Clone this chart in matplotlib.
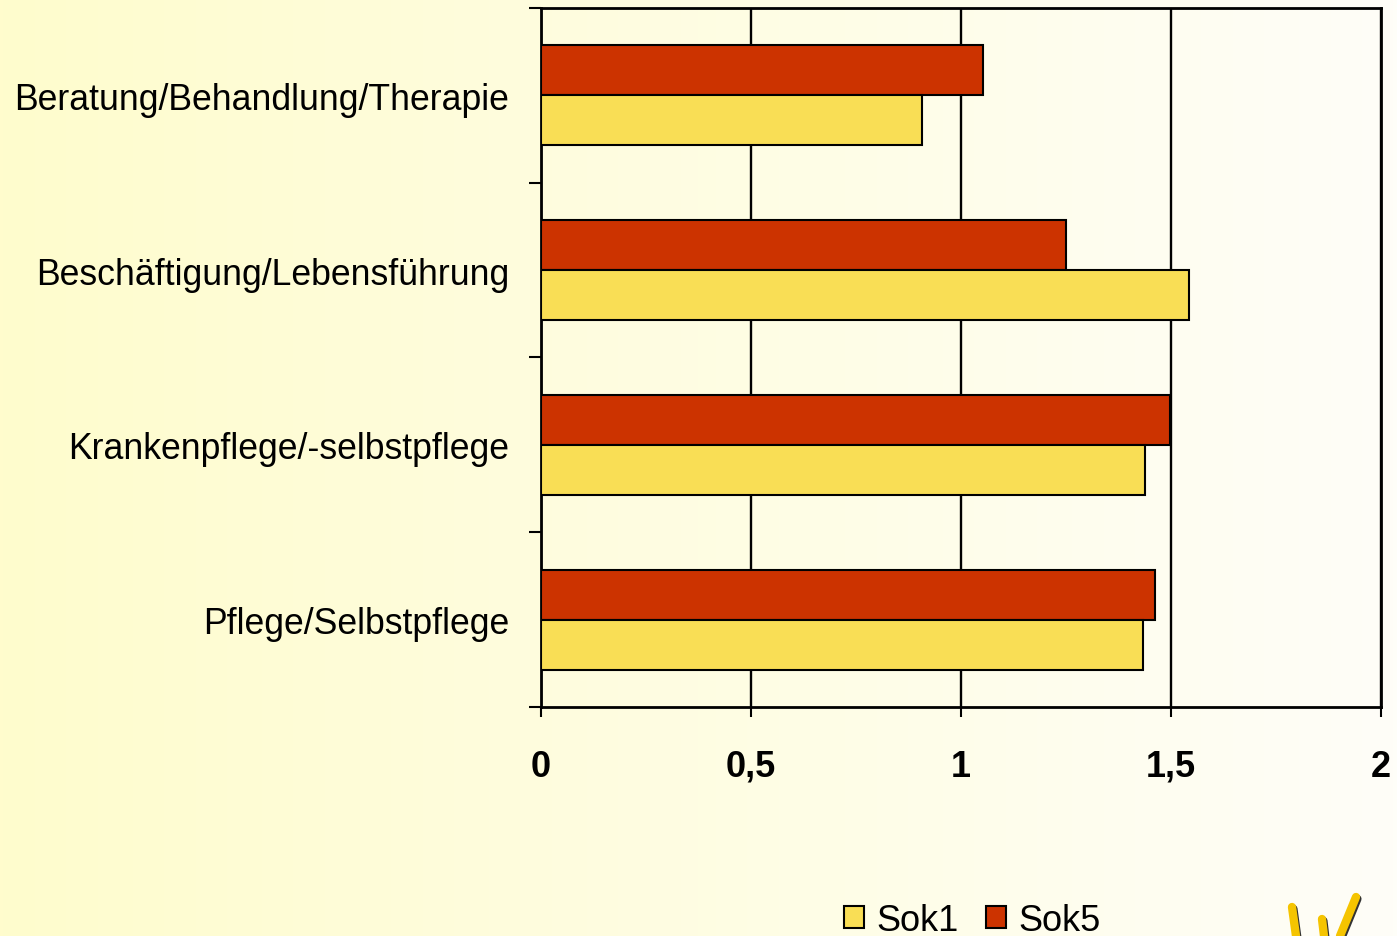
import numpy as np
import matplotlib
matplotlib.use("Agg")
import matplotlib.pyplot as plt
from matplotlib.patches import Patch

plt.rcParams['font.family'] = ['Liberation Sans', 'DejaVu Sans']

# Daten
kategorien = ['Beratung/Behandlung/Therapie', 'Beschäftigung/Lebensführung',
              'Krankenpflege/-selbstpflege', 'Pflege/Selbstpflege']
sok1 = [0.907, 1.543, 1.438, 1.433]
sok5 = [1.052, 1.251, 1.498, 1.462]
xticks = [0, 0.5, 1, 1.5, 2]
xlabels = ['0', '0,5', '1', '1,5', '2']

gelb = '#F9DE55'
rot = '#CC3300'

fig = plt.figure(figsize=(13.97, 9.37), dpi=100)

# Hintergrund mit Verlauf (gelb -> weiss)
bg = fig.add_axes([0, 0, 1, 1], zorder=-10)
links = np.array([255, 252, 205]) / 255.0
rechts = np.array([254, 254, 248]) / 255.0
t = np.linspace(0, 1, 400)
grad = (links[None, :] * (1 - t[:, None]) + rechts[None, :] * t[:, None])[None, :, :]
bg.imshow(grad, aspect='auto', extent=[0, 1, 0, 1])
bg.axis('off')

ax = fig.add_axes([0.3873, 0.2444, 0.6012, 0.746])
ax.patch.set_alpha(0)

y = np.arange(len(kategorien))
h = 0.286
ax.barh(y - h / 2, sok5, height=h, color=rot, edgecolor='black', linewidth=1.5, zorder=3)
ax.barh(y + h / 2, sok1, height=h, color=gelb, edgecolor='black', linewidth=1.5, zorder=3)

ax.set_ylim(len(kategorien) - 0.5, -0.5)
ax.set_xlim(0, 2)

ax.set_xticks(xticks)
ax.set_xticklabels(xlabels, fontsize=26, fontweight='bold')
ax.tick_params(axis='x', length=7, width=1.5, pad=23)

ax.set_yticks(y)
ax.set_yticklabels(kategorien, fontsize=25.7)
ax.tick_params(axis='y', length=0, pad=23)
ax.set_yticks(np.arange(len(kategorien) + 1) - 0.5, minor=True)
ax.tick_params(axis='y', which='minor', length=9, width=1.5)

ax.grid(axis='x', color='black', linewidth=1.7, zorder=1)
for s in ax.spines.values():
    s.set_linewidth(2)
    s.set_color('black')

handles = [Patch(facecolor=gelb, edgecolor='black', linewidth=1.5, label='Sok1'),
           Patch(facecolor=rot, edgecolor='black', linewidth=1.5, label='Sok5')]
fig.legend(handles=handles, loc='center', bbox_to_anchor=(0.696, 0.017), ncol=2,
           frameon=False, fontsize=26, handlelength=0.55, handleheight=0.55,
           handletextpad=0.35, columnspacing=0.75)

# Logo-Andeutung unten rechts
for (x0, y0, x1, y1) in [(1292, 908, 1296, 937), (1322, 920, 1324, 937), (1356, 898, 1340, 937)]:
    fig.add_artist(plt.Line2D([x0 / 1397 + 0.001, x1 / 1397 + 0.001],
                              [1 - y0 / 937 - 0.002, 1 - y1 / 937 - 0.002],
                              color='#333333', linewidth=6, solid_capstyle='round'))
    fig.add_artist(plt.Line2D([x0 / 1397, x1 / 1397], [1 - y0 / 937, 1 - y1 / 937],
                              color='#F5C400', linewidth=6, solid_capstyle='round'))

fig.savefig('out.png', dpi=100)
